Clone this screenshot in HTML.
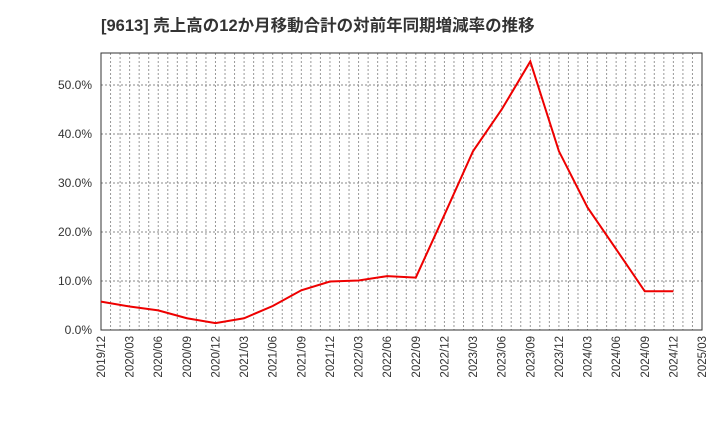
<!DOCTYPE html>
<html><head><meta charset="utf-8"><style>
body{margin:0;background:#fff;}
svg{display:block;font-family:"Liberation Sans","Noto Sans CJK JP",sans-serif;}
</style></head><body>
<svg id="c" width="720" height="440">
<text x="101" y="31" font-size="16.5" font-weight="bold" fill="#333">[9613]  売上高の12か月移動合計の対前年同期増減率の推移</text>
<g id="grid"></g><g id="axes"></g><g id="series"></g>
</svg>
<script>
const categories=["2019/12","2020/03","2020/06","2020/09","2020/12","2021/03","2021/06","2021/09","2021/12","2022/03","2022/06","2022/09","2022/12","2023/03","2023/06","2023/09","2023/12","2024/03","2024/06","2024/09","2024/12"];
const values=[5.8,4.8,4.0,2.4,1.4,2.4,4.9,8.1,9.9,10.1,11.0,10.7,23.5,36.5,45.0,54.8,36.5,25.0,16.5,7.9,7.9];
const xTickLabels=["2019/12","2020/03","2020/06","2020/09","2020/12","2021/03","2021/06","2021/09","2021/12","2022/03","2022/06","2022/09","2022/12","2023/03","2023/06","2023/09","2023/12","2024/03","2024/06","2024/09","2024/12","2025/03"];
const yTicks=[0,10,20,30,40,50];
const NS="http://www.w3.org/2000/svg";
const L=101,R=702,T=53,B=330;
const xs=i=>L+(R-L)*i/21;
const ys=v=>B-v*4.9;
function mk(tag,attrs,parent){const e=document.createElementNS(NS,tag);for(const k in attrs)e.setAttribute(k,attrs[k]);document.getElementById(parent).appendChild(e);return e;}
for(let m=1;m<63;m++){const x=L+(R-L)*m/63;
const g=mk("line",{x1:x,x2:x,y1:T,y2:B,stroke:"#999","stroke-dasharray":"2,2","stroke-width":1},"grid");

}
yTicks.forEach(v=>{const y=ys(v);
const g=mk("line",{x1:L,x2:R,y1:y,y2:y,stroke:"#888","stroke-dasharray":"2,2","stroke-width":1},"grid");


const t=mk("text",{x:L-9,y:y+4,"text-anchor":"end","font-size":12,fill:"#333"},"axes");t.textContent=v.toFixed(1)+"%";

});
xTickLabels.forEach((s,i)=>{const x=xs(i);
const t=mk("text",{x:0,y:0,"text-anchor":"end","font-size":11.5,fill:"#333",transform:`translate(${x+4},${B+6}) rotate(-90)`},"axes");t.textContent=s;

});
const f=mk("rect",{x:L,y:T,width:R-L,height:B-T,fill:"none",stroke:"#333","stroke-width":1},"axes");


const p=mk("polyline",{points:values.map((v,i)=>xs(i)+","+ys(v)).join(" "),fill:"none",stroke:"#e00","stroke-width":2},"series");


</script>
</body></html>
